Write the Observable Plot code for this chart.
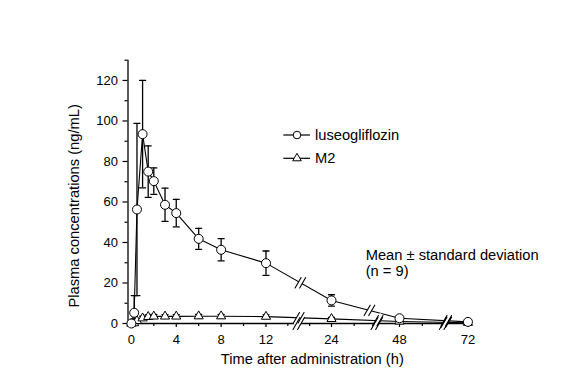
<!DOCTYPE html>
<html><head><meta charset="utf-8">
<script src="https://cdn.jsdelivr.net/npm/d3@7"></script>
<script src="https://cdn.jsdelivr.net/npm/@observablehq/plot@0.6"></script>
<style>
body{margin:0;background:#fff;}
#wrap{position:relative;width:585px;height:387px;font-family:"Liberation Sans",Arial,sans-serif;}
#wrap svg{position:absolute;left:0;top:0;}
</style></head><body><div id="wrap"></div>
<script>
// ---- data ----
const times = [0, 0.25, 0.5, 1, 1.5, 2, 3, 4, 6, 8, 12, 24, 48, 72];
const luseoMean = [0, 5.3, 56.3, 93.5, 75.0, 70.3, 58.6, 54.5, 41.8, 36.4, 29.8, 11.4, 2.6, 0.8];
const luseoSD   = [0, 8.5, 42.5, 26.5, 12.7, 6.5, 8.2, 6.8, 5.2, 5.5, 6.0, 2.8, 1.0, 0.4];
const m2Mean    = [0, 0.2, 1.3, 2.6, 3.3, 3.5, 3.5, 3.5, 3.6, 3.6, 3.4, 2.3, 1.0, 0.4];
const m2SD      = [0, 0.2, 0.8, 1.0, 1.0, 1.0, 0.9, 0.9, 0.9, 0.9, 0.9, 0.7, 0.4, 0.2];
const seriesNames = ["luseogliflozin", "M2"];
const yTicks = [0, 20, 40, 60, 80, 100, 120];
const yMinorTicks = [10, 30, 50, 70, 90, 110, 130];
const xTicks = [0, 4, 8, 12, 24, 48, 72];
const xMinorTicks = [2, 6, 10, 16, 20, 32, 40, 56, 64];
const axisBreaks = [18, 40, 64];
const luseoBreaks = [18.3, 37.4, 64.4];
const m2Breaks = [18, 40.3, 64.4];
const xLabel = "Time after administration (h)";
const yLabel = "Plasma concentrations (ng/mL)";
const noteLines = ["Mean \u00b1 standard deviation", "(n = 9)"];

// ---- build ----
const FONT = '"Liberation Sans", Arial, sans-serif';
function rows(means, sds) {
  return times.map((t, i) => ({t, y: means[i], lo: Math.max(0, means[i] - sds[i]), hi: means[i] + sds[i]}));
}
const luseo = rows(luseoMean, luseoSD);
const m2 = rows(m2Mean, m2SD);
function interp(ys, tb) {
  for (let i = 0; i < times.length - 1; i++) {
    if (tb >= times[i] && tb <= times[i + 1]) return ys[i] + (ys[i + 1] - ys[i]) * (tb - times[i]) / (times[i + 1] - times[i]);
  }
  return 0;
}
const axisBreakPts = axisBreaks.map(t => ({t, y: 0, len: 16}));
const lineBreakPts = [
  ...luseoBreaks.map(t => ({t, y: interp(luseoMean, t), len: 14})),
  ...m2Breaks.map(t => ({t, y: interp(m2Mean, t), len: 14}))
];
const breakPts = [...axisBreakPts, ...lineBreakPts];
const seg = {draw(ctx, l) { ctx.moveTo(0, 0); ctx.lineTo(0, -l); }};

function breakMarks(data) {
  return [
    Plot.vector(data, {x: "t", y: "y", length: "len", rotate: 30, anchor: "middle", shape: seg, stroke: "white", strokeWidth: 4}),
    Plot.vector(data, {x: "t", y: "y", length: "len", rotate: 30, anchor: "middle", shape: seg, stroke: "black", strokeWidth: 1.1, dx: -2.3}),
    Plot.vector(data, {x: "t", y: "y", length: "len", rotate: 30, anchor: "middle", shape: seg, stroke: "black", strokeWidth: 1.1, dx: 2.3})
  ];
}
function errorMarks(data) {
  return [
    Plot.ruleX(data, {x: "t", y1: "lo", y2: "hi", stroke: "black", strokeWidth: 1.3}),
    Plot.vector(data, {x: "t", y: "hi", length: 6, rotate: 90, anchor: "middle", shape: seg, stroke: "black", strokeWidth: 1.3}),
    Plot.vector(data, {x: "t", y: "lo", length: 6, rotate: 90, anchor: "middle", shape: seg, stroke: "black", strokeWidth: 1.3})
  ];
}

const plot = Plot.plot({
  width: 585, height: 387,
  marginLeft: 127.5, marginRight: 115, marginTop: 59.7, marginBottom: 64,
  style: {fontFamily: FONT, fontSize: "13px", color: "black", background: "transparent", overflow: "visible"},
  x: {type: "linear", domain: [-0.3, 12, 24, 48, 72.9], range: [127.5, 265.5, 331, 399, 470]},
  y: {domain: [0, 130]},
  marks: [
    Plot.axisY({ticks: yTicks, tickSize: 5, tickPadding: 5, label: null, strokeWidth: 1.2}),
    Plot.axisY({ticks: yMinorTicks, tickSize: 3, tickFormat: () => "", label: null, strokeWidth: 1.2}),
    Plot.axisX({ticks: xTicks, tickSize: 4, tickPadding: 7, label: null, strokeWidth: 1.2}),
    Plot.axisX({ticks: xMinorTicks, tickSize: 3, tickFormat: () => "", label: null, strokeWidth: 1.2}),
    Plot.ruleX([-0.3], {stroke: "black", strokeWidth: 1.3}),
    Plot.ruleY([0], {stroke: "black", strokeWidth: 1.3}),
    Plot.line(luseo, {x: "t", y: "y", stroke: "black", strokeWidth: 1.1}),
    Plot.line(m2, {x: "t", y: "y", stroke: "black", strokeWidth: 1.1}),
    ...breakMarks(breakPts),
    ...errorMarks(luseo),
    ...errorMarks(m2),
    Plot.dot(m2, {x: "t", y: "y", symbol: "triangle", r: 3.4, fill: "white", stroke: "black", strokeWidth: 1}),
    Plot.dot(luseo, {x: "t", y: "y", r: 4.5, fill: "white", stroke: "black", strokeWidth: 1}),
    Plot.text([xLabel], {frameAnchor: "bottom", textAnchor: "middle", lineAnchor: "middle", dx: 13, dy: 35.6, fontSize: 14.7}),
    Plot.text([yLabel], {frameAnchor: "left", textAnchor: "middle", lineAnchor: "middle", rotate: -90, dx: -53.7, dy: 14, fontSize: 14.7})
  ]
});
const wrap = document.getElementById("wrap");
wrap.appendChild(plot);

// ---- legend & note overlay ----
const ov = d3.create("svg").attr("width", 585).attr("height", 387)
  .style("font-family", FONT).style("font-size", "14.7px");
const legendSyms = [d3.symbolCircle, d3.symbolTriangle];
const legendSizes = [Math.PI * 3.8 * 3.8, Math.PI * 3.2 * 3.2];
seriesNames.forEach((name, i) => {
  const y = 135 + i * 23.3;
  ov.append("line").attr("x1", 283.3).attr("x2", 310).attr("y1", y).attr("y2", y).attr("stroke", "black").attr("stroke-width", 1.2);
  ov.append("path").attr("d", d3.symbol(legendSyms[i], legendSizes[i])()).attr("transform", `translate(297,${y})`)
    .attr("fill", "white").attr("stroke", "black").attr("stroke-width", 1);
  ov.append("text").attr("x", 315).attr("y", y + 4.6).text(name);
});
noteLines.forEach((s, i) => {
  ov.append("text").attr("x", 365.7).attr("y", 259.5 + i * 16.8).text(s);
});
wrap.appendChild(ov.node());
</script></body></html>
